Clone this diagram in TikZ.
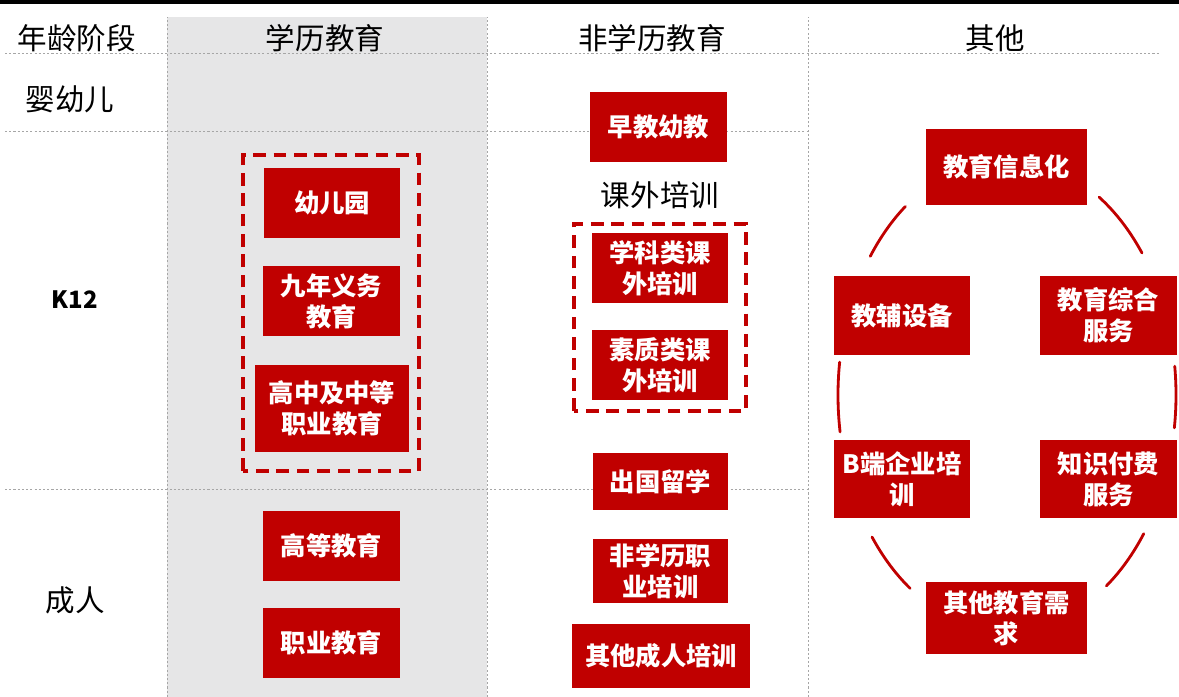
\documentclass[tikz,border=0pt]{standalone}
\usepackage{fontspec}
\setmainfont{Noto Sans CJK SC}
\usetikzlibrary{calc}
\definecolor{boxred}{RGB}{192,0,0}
\definecolor{colgray}{RGB}{230,230,231}
\tikzset{
	edubox/.style 2 args={fill=boxred, text=white, inner sep=0pt, align=center,
		minimum width=#1*0.025cm, minimum height=#2*0.025cm,
		font=\fontsize{18}{22}\selectfont\bfseries},
	grid line/.style={gray!70, line width=0.5pt, dash pattern=on 1.5pt off 1.5pt},
	group line/.style={boxred, line width=2.2pt, dash pattern=on 9pt off 5.5pt},
	ring/.style={boxred, line width=2pt, line cap=round},
	head/.style={font=\fontsize{21}{25}\selectfont}
}

\begin{document}
\begin{tikzpicture}[x=0.025cm, y=0.025cm]
			\def\W{1179}
			\def\H{697}

			\useasboundingbox (0,0) rectangle (\W,\H);

			\coordinate (ring centre) at (1007,302);

			\begin{scope}
				\fill [colgray] (167,0) rectangle (487,680);
				\fill [black] (0,693) rectangle (\W,\H);
			\end{scope}

			\begin{scope}[grid line]
				\draw (5,644) -- (1160,644);
				\draw (5,566) -- (808,566);
				\draw (5,208) -- (808,208);

				\draw (167,0) -- (167,680);
				\draw (487,0) -- (487,680);
				\draw (808,0) -- (808,680);
			\end{scope}

			\node [head] (age head) at (77,659) {年龄阶段};
			\node [head] (degree head) at (325,659) {学历教育};
			\node [head] (nondegree head) at (652,659) {非学历教育};
			\node [head] (other head) at (995,659) {其他};

			\node [head] (infant) at (70,598) {婴幼儿};
			\node [font=\fontsize{17}{20}\selectfont\bfseries] (k12) at (75,397) {K12};
			\node [head] (adult) at (75,97) {成人};

			\begin{scope}
				\draw [group line] (243,226) rectangle (419,542);
				\node [edubox={136}{70}] (kindergarten) at (332,494) {幼儿园};
				\node [edubox={137}{70}] (compulsory) at (331.5,396) {九年义务\\教育};
				\node [edubox={154}{87}] (high school) at (332,288.5) {高中及中等\\职业教育};
				\node [edubox={137}{70}] (higher) at (331.5,151) {高等教育};
				\node [edubox={137}{70}] (vocational) at (331.5,54) {职业教育};
			\end{scope}

			\begin{scope}
				\node [edubox={137}{70}] (early) at (658.5,570) {早教幼教};
				\node [head] (tutoring) at (660,502) {课外培训};
				\draw [group line] (574,286) rectangle (746,473);
				\node [edubox={136}{70}] (subject) at (660,429) {学科类课\\外培训};
				\node [edubox={136}{70}] (quality) at (660,332) {素质类课\\外培训};
				\node [edubox={135}{57}] (abroad) at (660.5,215.5) {出国留学};
				\node [edubox={135}{64}] (adult vocational) at (660.5,126) {非学历职\\业培训};
				\node [edubox={178}{64}] (other adult) at (661,41) {其他成人培训};
			\end{scope}

			\begin{scope}
				\node [edubox={161}{76}] (informatization) at (1006.5,530) {教育信息化};
				\node [edubox={136}{79}] (teaching aids) at (902,381.5) {教辅设备};
				\node [edubox={137}{79}] (services) at (1108.5,381.5) {教育综合\\服务};
				\node [edubox={136}{78}] (corporate) at (902,218) {B端企业培\\训};
				\node [edubox={137}{78}] (knowledge) at (1108.5,218) {知识付费\\服务};
				\node [edubox={161}{72}] (other needs) at (1006.5,79) {其他教育需\\求};
			\end{scope}

			\begin{scope}[ring]
				\draw (ring centre) ++(127:169 and 236) arc [start angle=127, end angle=144, x radius=169, y radius=236];
				\draw (ring centre) ++(37:169 and 236) arc [start angle=37, end angle=57, x radius=169, y radius=236];
				\draw (ring centre) ++(172:169 and 236) arc [start angle=172, end angle=189, x radius=169, y radius=236];
				\draw (ring centre) ++(-8:169 and 236) arc [start angle=-8, end angle=7, x radius=169, y radius=236];
				\draw (ring centre) ++(217:169 and 236) arc [start angle=217, end angle=235, x radius=169, y radius=236];
				\draw (ring centre) ++(306:169 and 236) arc [start angle=306, end angle=324, x radius=169, y radius=236];
			\end{scope}
		\end{tikzpicture}
\end{document}
